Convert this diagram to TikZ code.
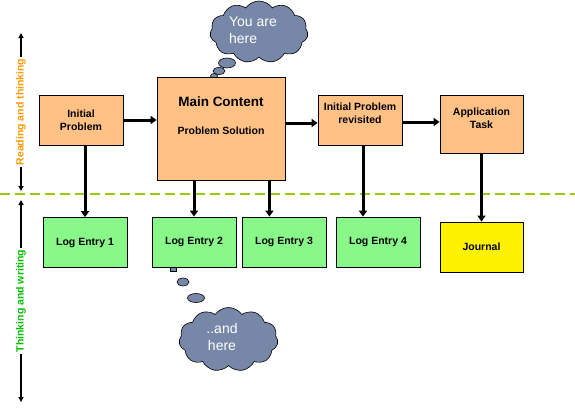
\documentclass[tikz,border=0pt]{standalone}
\usepackage{fontspec}
\setmainfont{Liberation Sans}
\usetikzlibrary{shapes.symbols,arrows.meta}
\definecolor{peach}{HTML}{FFC184}
\definecolor{lgreen}{HTML}{88F888}
\definecolor{cloudc}{HTML}{7787A7}
\definecolor{dashc}{HTML}{99CC00}
\definecolor{orangetxt}{HTML}{FF9900}
\definecolor{greentxt}{HTML}{00C000}
\begin{document}
\begin{tikzpicture}[x=1pt,y=-1pt,
  box/.style={draw=black, line width=0.8pt, font=\fontsize{10.5}{13}\selectfont\bfseries, align=center, inner sep=0pt},
  obox/.style={box, fill=peach},
  gbox/.style={box, fill=lgreen, minimum width=84pt, minimum height=50pt},
  ybox/.style={box, fill=yellow, minimum width=83pt, minimum height=50pt},
  arr/.style={line width=3pt, -{Triangle[length=6pt,width=8pt]}},
  sidearr/.style={line width=1.2pt, {Triangle[length=5pt,width=5pt]}-{Triangle[length=5pt,width=5pt]}},
  sidetxt/.style={rotate=90, fill=white, inner sep=2pt, font=\fontsize{10.5}{12}\selectfont\bfseries},
  thought/.style={cloud, cloud puffs=11, cloud puff arc=110, aspect=1.6, fill=cloudc, draw=black, line width=0.6pt, inner sep=0pt, text=white, font=\fontsize{14}{17}\selectfont},
  bubble/.style={fill=cloudc, draw=black, line width=0.6pt}
]
\useasboundingbox (0,0) rectangle (575,415);

% dashed separator
\coordinate (dl) at (0,194);
\coordinate (dr) at (575,194);
\draw[dashc, line width=2pt, dash pattern=on 10pt off 5pt] (dl) -- (dr);

% thought clouds
\node[thought, minimum width=98pt, minimum height=62pt] (c1) at (259,32) {};
\node[text=white, font=\fontsize{14}{17}\selectfont, align=left] (c1t) at (253,30) {You are\\here};
\filldraw[bubble] (227,63) ellipse [x radius=8.5pt, y radius=5pt];
\filldraw[bubble] (219,71) ellipse [x radius=6pt, y radius=3.5pt];
\filldraw[bubble] (214,76) ellipse [x radius=3.5pt, y radius=2.5pt];

\node[thought, minimum width=99pt, minimum height=64pt] (c2) at (228.5,339.5) {};
\node[text=white, font=\fontsize{14}{17}\selectfont, align=center] (c2t) at (222,337) {..and\\here};
\filldraw[bubble] (196,298) ellipse [x radius=8.5pt, y radius=4.5pt];
\filldraw[bubble] (183,282) ellipse [x radius=6pt, y radius=4pt];
\filldraw[bubble] (170,266) rectangle (176,271);

% upper boxes
\node[obox, minimum width=84pt, minimum height=50pt] (ip) at (81,120) {Initial\\Problem};
\node[obox, minimum width=128pt, minimum height=103pt,
  label={[font=\fontsize{13.5}{15}\selectfont\bfseries, yshift=26.5pt]center:Main Content},
  label={[font=\fontsize{10.5}{13}\selectfont\bfseries, yshift=-2.5pt]center:Problem Solution}] (mc) at (221,128.5) {};
\node[obox, minimum width=84pt, minimum height=50pt,
  label={[font=\fontsize{10.5}{13}\selectfont\bfseries, align=center, yshift=6.5pt]center:{Initial Problem\\revisited}}] (ipr) at (360,120) {};
\node[obox, minimum width=83pt, minimum height=58pt,
  label={[font=\fontsize{10.5}{13}\selectfont\bfseries, align=center, yshift=6pt]center:{Application\\Task}}] (app) at (481.5,124) {};

% lower boxes
\node[gbox] (le1) at (85,242.5) {Log Entry 1};
\node[gbox] (le2) at (194,242) {Log Entry 2};
\node[gbox] (le3) at (284,242) {Log Entry 3};
\node[gbox] (le4) at (378,242) {Log Entry 4};
\node[ybox] (jn) at (481.5,247) {Journal};

% arrow anchor points
\coordinate (mcout) at ([yshift=5.5pt]mc.east);
\coordinate (iprout) at ([yshift=-2pt]ipr.east);
\coordinate (mcdown) at ([xshift=-16pt]mc.south east);
\coordinate (iprdown) at ([xshift=3pt]ipr.south);

% horizontal arrows
\draw[arr] (ip.east) -- (mc.west |- ip.east);
\draw[arr] (mcout) -- (ipr.west |- mcout);
\draw[arr] (iprout) -- (app.west |- iprout);

% vertical arrows
\draw[arr] (ip.south -| le1.north) -- (le1.north);
\draw[arr] (mc.south -| le2.north) -- (le2.north);
\draw[arr] (mcdown) -- (mcdown |- le3.north);
\draw[arr] (iprdown) -- (iprdown |- le4.north);
\draw[arr] (app.south) -- (jn.north);

% side arrows
\coordinate (s1) at (21,33);
\coordinate (s2) at (21,191);
\coordinate (s3) at (21,200);
\coordinate (s4) at (21,402);
\draw[sidearr] (s1) -- (s2) node[sidetxt, text=orangetxt, midway] (rt) {Reading and thinking};
\draw[sidearr] (s3) -- (s4) node[sidetxt, text=greentxt, midway] (tw) {Thinking and writing};
\end{tikzpicture}
\end{document}
